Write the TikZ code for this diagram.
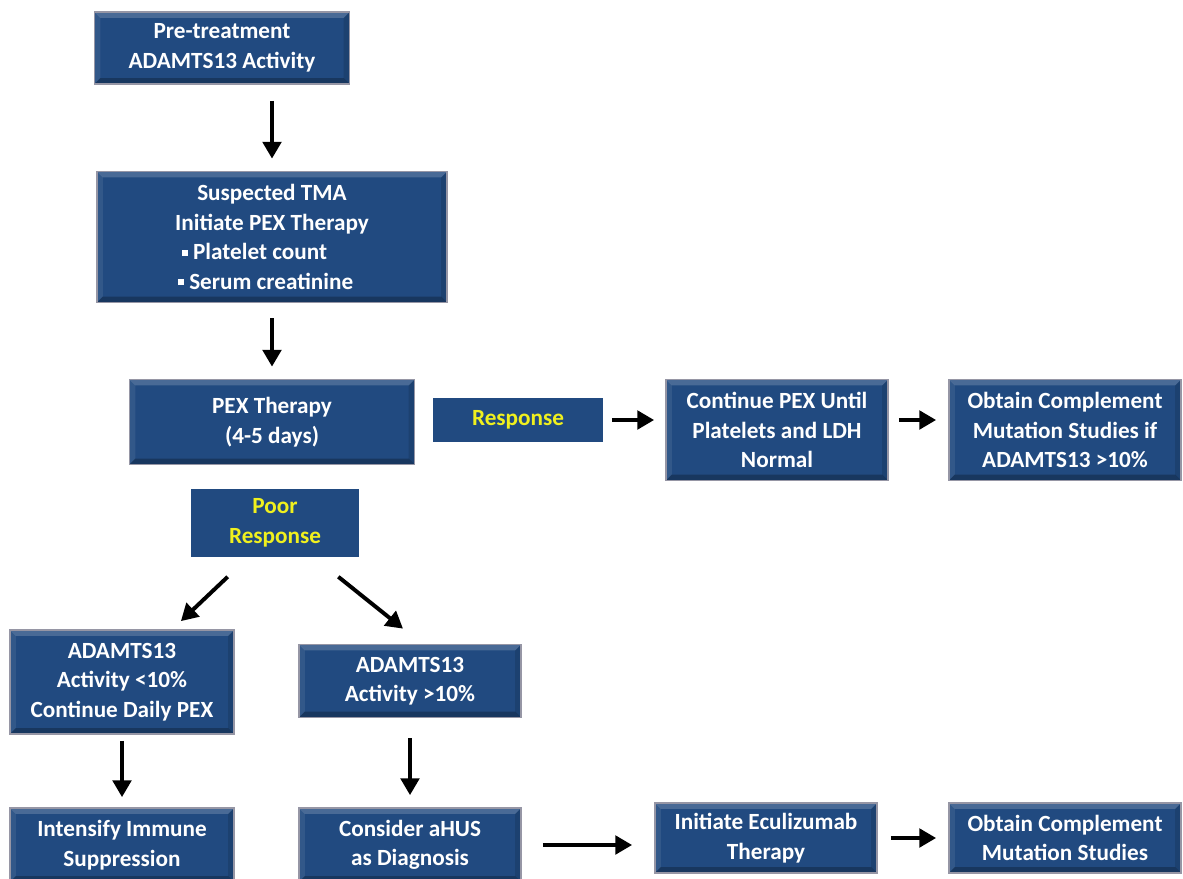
\documentclass[tikz,border=0pt]{standalone}
\usepackage{fontspec}
\setmainfont{Carlito}
\usepackage{xcolor}
\usetikzlibrary{arrows.meta,positioning}
\definecolor{azulcaixa}{RGB}{33,74,128}
\definecolor{bordacaixa}{RGB}{150,150,165}
\definecolor{amarelo}{RGB}{240,240,30}
\tikzset{
  caixa/.style={rectangle,draw=bordacaixa,line width=1.2pt,fill=azulcaixa,
    text=white,align=center,inner sep=2pt,
    font=\fontsize{16.5}{21}\selectfont\bfseries,
    path picture={
      \fill[white,opacity=.18] (path picture bounding box.north west) -- (path picture bounding box.north east)
        -- ([shift={(-0.15cm,-0.15cm)}]path picture bounding box.north east)
        -- ([shift={(0.15cm,-0.15cm)}]path picture bounding box.north west) -- cycle;
      \fill[white,opacity=.08] (path picture bounding box.north west) -- (path picture bounding box.south west)
        -- ([shift={(0.15cm,0.15cm)}]path picture bounding box.south west)
        -- ([shift={(0.15cm,-0.15cm)}]path picture bounding box.north west) -- cycle;
      \fill[black,opacity=.25] (path picture bounding box.south west) -- (path picture bounding box.south east)
        -- ([shift={(-0.15cm,0.15cm)}]path picture bounding box.south east)
        -- ([shift={(0.15cm,0.15cm)}]path picture bounding box.south west) -- cycle;
      \fill[black,opacity=.12] (path picture bounding box.north east) -- (path picture bounding box.south east)
        -- ([shift={(-0.15cm,0.15cm)}]path picture bounding box.south east)
        -- ([shift={(-0.15cm,-0.15cm)}]path picture bounding box.north east) -- cycle;
    }},
  resposta/.style={rectangle,fill=azulcaixa,text=amarelo,align=center,inner sep=2pt,
    font=\fontsize{16.5}{21}\selectfont\bfseries},
  seta/.style={-{Triangle[length=4.2mm,width=4.6mm]},line width=2.8pt,black}
}
\newcommand{\marcador}{\raisebox{0.18em}{\rule{0.26em}{0.26em}}\ }
\begin{document}
\begin{tikzpicture}[x=0.025cm,y=-0.025cm]
\useasboundingbox (0,0) rectangle (1183,879);
% caixas
\node[caixa,minimum width=6.375cm,minimum height=1.8cm] (pre) at (222,48) {Pre-treatment\\ADAMTS13 Activity};
\node[caixa,minimum width=8.75cm,minimum height=3.275cm] (tma) at (272,237)
  {Suspected TMA\\Initiate PEX Therapy\\
   \makebox[4.7cm][l]{\,\marcador Platelet count}\\\makebox[4.7cm][l]{\marcador Serum creatinine}};
\node[caixa,minimum width=7.125cm,minimum height=2.125cm] (pex) at (272,422) {PEX Therapy\\(4-5 days)};
\node[resposta,minimum width=4.225cm,minimum height=1.1cm] (resp) at (518,420) {Response};
\node[caixa,minimum width=5.55cm,minimum height=2.525cm] (cont) at (777,430) {Continue PEX Until\\Platelets and LDH\\Normal};
\node[caixa,minimum width=5.8cm,minimum height=2.525cm] (obtum) at (1065,430) {Obtain Complement\\Mutation Studies if\\ADAMTS13 >10\%};
\node[resposta,minimum width=4.2cm,minimum height=1.675cm] (poor) at (275,523) {Poor\\Response};
\node[caixa,minimum width=5.6cm,minimum height=2.6cm] (baixa) at (122,682) {ADAMTS13\\Activity <10\%\\Continue Daily PEX};
\node[caixa,minimum width=5.55cm,minimum height=1.825cm] (alta) at (410,681) {ADAMTS13\\Activity >10\%};
\node[caixa,minimum width=5.6cm,minimum height=1.85cm] (intens) at (122,845) {Intensify Immune\\Suppression};
\node[caixa,minimum width=5.55cm,minimum height=1.85cm] (ahus) at (410,845) {Consider aHUS\\as Diagnosis};
\node[caixa,minimum width=5.55cm,minimum height=1.75cm] (ecu) at (766,838) {Initiate Eculizumab\\Therapy};
\node[caixa,minimum width=5.8cm,minimum height=1.75cm] (obtdois) at (1065,838) {Obtain Complement\\Mutation Studies};
% setas
\draw[seta,shorten <=0.4cm,shorten >=0.3cm] (pre.south -| tma.north) -- (tma.north);
\draw[seta,shorten <=0.375cm,shorten >=0.3cm] (tma.south) -- (pex.north);
\draw[seta,shorten <=0.225cm,shorten >=0.275cm] (resp.east) -- (resp.east -| cont.west);
\draw[seta,shorten <=0.25cm,shorten >=0.3cm] (cont.east |- resp.east) -- (obtum.west |- resp.east);
\draw[seta] ([shift={(37,20)}]poor.south west) -- ([shift={(-54,-8)}]baixa.north east);
\draw[seta] ([shift={(-21,20)}]poor.south east) -- ([shift={(-7,-15)}]alta.north);
\draw[seta,shorten <=0.15cm,shorten >=0.25cm] (baixa.south) -- (intens.north);
\draw[seta,shorten <=0.5cm,shorten >=0.3cm] (alta.south) -- (ahus.north);
\draw[seta,shorten <=0.525cm,shorten >=0.55cm] (ahus.east) -- (ahus.east -| ecu.west);
\draw[seta,shorten <=0.325cm,shorten >=0.3cm] (ecu.east) -- (obtdois.west);
\end{tikzpicture}
\end{document}
